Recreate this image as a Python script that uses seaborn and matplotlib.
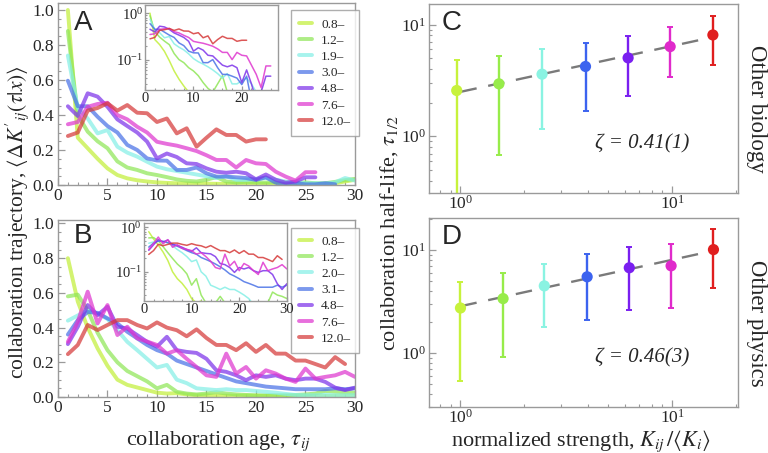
import numpy as np
import pandas as pd
import matplotlib
matplotlib.use("Agg")
import matplotlib.pyplot as plt
from matplotlib.ticker import MultipleLocator, NullFormatter
from matplotlib.lines import Line2D
import seaborn as sns

# strength bins (legend labels)
bins_a = ['0.8–', '1.2–', '1.9–', '3.0–', '4.8–', '7.6–', '12.0–']
bins_b = ['0.8–', '1.2–', '2.0–', '3.1–', '4.8–', '7.6–', '12.0–']

# A: other biology, trajectory vs collaboration age (age = 1, 2, ...)
traj_a_08 = [1.0, 0.27, 0.21, 0.15, 0.095, 0.057, 0.038, 0.027, 0.02, 0.015, 0.012, 0.01, 0.009, 0.008, 0.008,
             0.007, 0.007, 0.007, 0.006, 0.006, 0.006, 0.006, 0.005, 0.005, 0.006, 0.006, 0.005, 0.01, 0.02, 0.03]
traj_a_12 = [0.88, 0.40, 0.305, 0.25, 0.21, 0.135, 0.10, 0.086, 0.067, 0.057, 0.045, 0.032, 0.024, 0.02, 0.03,
             0.045, 0.02, 0.015, 0.018, 0.015, 0.014, 0.016, 0.014, 0.012, 0.015, 0.01, 0.01, 0.018, 0.028, 0.035]
traj_a_19 = [0.74, 0.44, 0.38, 0.295, 0.314, 0.219, 0.185, 0.162, 0.133, 0.105, 0.09, 0.08, 0.07, 0.06, 0.05,
             0.04, 0.05, 0.03, 0.03, 0.035, 0.04, 0.03, 0.02, 0.015, 0.01, 0.01, 0.008, 0.015, 0.04, 0.025]
traj_a_30 = [0.596, 0.45, 0.45, 0.39, 0.337, 0.30, 0.229, 0.20, 0.152, 0.14, 0.139, 0.086, 0.086, 0.10, 0.067,
             0.048, 0.048, 0.044, 0.04, 0.029, 0.044, 0.013, 0.004, 0.01, 0.004, 0.004, 0.01, 0.004]
traj_a_48 = [0.45, 0.394, 0.524, 0.505, 0.447, 0.375, 0.337, 0.30, 0.248, 0.152, 0.18, 0.16, 0.124, 0.12, 0.095,
             0.076, 0.07, 0.076, 0.067, 0.032, 0.06, 0.03, 0.013, 0.02, 0.044, 0.044]
traj_a_76 = [0.347, 0.36, 0.447, 0.463, 0.47, 0.40, 0.375, 0.333, 0.30, 0.247, 0.235, 0.225, 0.21, 0.194, 0.17,
             0.143, 0.143, 0.10, 0.143, 0.124, 0.12, 0.076, 0.048, 0.025, 0.073, 0.073]
traj_a_120 = [0.28, 0.30, 0.425, 0.44, 0.467, 0.425, 0.457, 0.413, 0.41, 0.36, 0.38, 0.295, 0.324, 0.219, 0.27,
              0.318, 0.286, 0.286, 0.248, 0.261, 0.261]

# B: other physics
traj_b_08 = [0.80, 0.55, 0.40, 0.28, 0.18, 0.10, 0.07, 0.055, 0.04, 0.025, 0.02, 0.022, 0.015, 0.01, 0.01,
             0.008, 0.008, 0.007, 0.008, 0.007, 0.006, 0.006, 0.007, 0.006, 0.005, 0.006, 0.006, 0.006, 0.007, 0.006]
traj_b_12 = [0.58, 0.59, 0.50, 0.37, 0.27, 0.20, 0.15, 0.12, 0.09, 0.05, 0.07, 0.03, 0.02, 0.015, 0.02,
             0.028, 0.02, 0.015, 0.012, 0.01, 0.01, 0.01, 0.01, 0.012, 0.015, 0.02, 0.035, 0.03, 0.028, 0.025]
traj_b_20 = [0.44, 0.47, 0.50, 0.48, 0.45, 0.385, 0.318, 0.27, 0.22, 0.17, 0.185, 0.10, 0.08, 0.05, 0.045,
             0.04, 0.045, 0.04, 0.04, 0.035, 0.03, 0.025, 0.018, 0.012, 0.01, 0.01, 0.012, 0.01, 0.01, 0.01]
traj_b_31 = [0.36, 0.443, 0.49, 0.485, 0.453, 0.424, 0.376, 0.338, 0.30, 0.27, 0.25, 0.21, 0.19, 0.17, 0.15,
             0.13, 0.11, 0.09, 0.08, 0.07, 0.06, 0.055, 0.05, 0.045, 0.045, 0.045, 0.045, 0.05, 0.045, 0.05]
traj_b_48 = [0.305, 0.405, 0.53, 0.472, 0.52, 0.405, 0.395, 0.357, 0.318, 0.29, 0.347, 0.27, 0.26, 0.254, 0.22,
             0.154, 0.145, 0.125, 0.097, 0.125, 0.116, 0.125, 0.106, 0.097, 0.106, 0.106, 0.087, 0.054, 0.04, 0.054]
traj_b_76 = [0.318, 0.434, 0.607, 0.424, 0.53, 0.357, 0.405, 0.338, 0.32, 0.30, 0.25, 0.27, 0.22, 0.173, 0.125,
             0.116, 0.25, 0.135, 0.173, 0.106, 0.154, 0.135, 0.106, 0.087, 0.164, 0.106, 0.116, 0.125, 0.145, 0.116]
traj_b_120 = [0.247, 0.30, 0.415, 0.386, 0.415, 0.443, 0.443, 0.415, 0.395, 0.43, 0.40, 0.385, 0.35, 0.39, 0.34,
              0.30, 0.30, 0.27, 0.31, 0.26, 0.30, 0.25, 0.25, 0.21, 0.21, 0.19, 0.17, 0.23, 0.19]

# C: half-life vs normalized strength (other biology)
strength_c = [0.96, 1.52, 2.43, 3.9, 6.2, 9.8, 15.6]
halflife_c = [2.57, 2.95, 3.6, 4.22, 5.04, 6.36, 8.09]
err_lo_c = [0.2, 0.676, 1.15, 1.68, 2.29, 3.41, 4.37]
err_hi_c = [4.87, 5.29, 6.06, 6.81, 7.87, 9.46, 11.9]
fit_c_x = [1.0, 14.5]
fit_c_y = [2.5, 7.5]

# D: other physics
strength_d = [1.0, 1.59, 2.49, 3.97, 6.28, 9.9, 15.7]
halflife_d = [2.74, 3.38, 4.49, 5.5, 6.73, 7.03, 10.1]
err_lo_d = [0.54, 0.914, 1.79, 2.08, 2.64, 2.72, 4.3]
err_hi_d = [4.92, 5.93, 7.31, 9.07, 10.8, 11.4, 16.0]
fit_d_x = [1.0, 14.5]
fit_d_y = [2.85, 9.5]

line_colors = ['#c2ef3a', '#8fe657', '#85efe6', '#4a72e6', '#7d33ea', '#df37cf', '#d63a3a']
dot_colors = ['#c7f23c', '#97ec4a', '#8af3e2', '#3c63ef', '#7a1ff0', '#e02acb', '#e01e1e']
frame = '#9a9a9a'

sns.set_style("white")
plt.rcParams['font.family'] = ['Liberation Serif', 'DejaVu Serif']
plt.rcParams['mathtext.fontset'] = 'stix'


def to_long(series, labels):
    rows = []
    for lab, vals in zip(labels, series):
        for t, v in enumerate(vals, start=1):
            rows.append((lab, t, v))
    return pd.DataFrame(rows, columns=['bin', 'age', 'traj'])


def style_frame(ax, size=13, xpad=2, ypad=2):
    for s in ax.spines.values():
        s.set_color(frame)
        s.set_linewidth(1.0)
    ax.tick_params(which='both', direction='in', color=frame, bottom=True, left=True,
                   top=False, right=False, labelsize=size)
    ax.tick_params(axis='x', pad=xpad)
    ax.tick_params(axis='y', pad=ypad)
    ax.tick_params(which='major', length=5, width=0.9)
    ax.tick_params(which='minor', length=2.5, width=0.8)


def traj_panel(ax, series, labels, letter, ylim_top):
    df = to_long(series, labels)
    pal = dict(zip(labels, line_colors))
    sns.lineplot(data=df, x='age', y='traj', hue='bin', hue_order=labels, palette=pal,
                 lw=2.8, alpha=0.72, legend=False, estimator=None, ax=ax)
    ax.set_xlim(0, 30)
    ax.set_ylim(0, ylim_top)
    ax.xaxis.set_major_locator(MultipleLocator(5))
    ax.xaxis.set_minor_locator(MultipleLocator(1))
    ax.yaxis.set_major_locator(MultipleLocator(0.2))
    ax.yaxis.set_minor_locator(MultipleLocator(0.05))
    ax.yaxis.set_major_formatter(plt.FuncFormatter(lambda v, p: f"{v:.1f}"))
    ax.set_xlabel('')
    ax.set_ylabel('')
    style_frame(ax, 12.5, xpad=2.5, ypad=3)
    ax.text(0.085, 0.89 if letter == 'A' else 0.91, letter, transform=ax.transAxes, ha='center',
            va='center', fontsize=20, family=['Liberation Sans', 'DejaVu Sans'])
    handles = [Line2D([], [], color=c, lw=2.8, alpha=0.72) for c in line_colors]
    leg = ax.legend(handles, labels, loc='upper left', bbox_to_anchor=(0.762, 0.995),
                    frameon=True, fancybox=False, edgecolor=frame, fontsize=9.5,
                    handlelength=1.0, handletextpad=0.7, labelspacing=0.3, borderpad=0.6)
    leg.get_frame().set_linewidth(1.0)


def inset_panel(ax, series, labels, xmax, ylim, xticks):
    df = to_long(series, labels)
    pal = dict(zip(labels, line_colors))
    sns.lineplot(data=df, x='age', y='traj', hue='bin', hue_order=labels, palette=pal,
                 lw=1.1, alpha=0.85, legend=False, estimator=None, ax=ax)
    ax.set_yscale('log')
    ax.set_xlim(0, xmax)
    ax.set_ylim(*ylim)
    ax.set_xticks(xticks)
    ax.xaxis.set_minor_locator(MultipleLocator(2))
    ax.yaxis.set_minor_formatter(NullFormatter())
    ax.set_xlabel('')
    ax.set_ylabel('')
    style_frame(ax, 10.5, xpad=1.5, ypad=1.5)
    ax.tick_params(which='major', length=3)
    ax.tick_params(which='minor', length=1.5)
    ax.set_facecolor('white')


def halflife_panel(ax, x, y, lo, hi, fx, fy, letter, ylim, zeta):
    for xi, yi, l, h, c in zip(x, y, lo, hi, dot_colors):
        ax.errorbar([xi], [yi], yerr=[[yi - l], [h - yi]], fmt='none', ecolor=c,
                    elinewidth=1.7, capsize=2, capthick=1.4, zorder=2)
    ax.plot(fx, fy, color='#7a7a7a', lw=1.7, ls=(0, (7, 5)), zorder=2.5)
    sns.scatterplot(x=x, y=y, hue=list(range(len(x))), palette=dot_colors, s=65,
                    edgecolor='none', legend=False, zorder=3, ax=ax)
    ax.set_xscale('log')
    ax.set_yscale('log')
    ax.set_xlim(0.71, 20.5)
    ax.set_ylim(*ylim)
    ax.xaxis.set_minor_formatter(NullFormatter())
    ax.yaxis.set_minor_formatter(NullFormatter())
    style_frame(ax, 12.5, xpad=1, ypad=2)
    ax.text(0.074, 0.9, letter, transform=ax.transAxes, ha='center', va='center',
            fontsize=20, family=['Liberation Sans', 'DejaVu Sans'])
    ax.text(0.69, 0.26, zeta, transform=ax.transAxes, ha='center', va='center',
            fontsize=15, style='italic')


fig = plt.figure(figsize=(7.68, 4.53), dpi=100)

ax_a = fig.add_axes([0.0755, 0.5916, 0.3867, 0.4018])
ax_b = fig.add_axes([0.0755, 0.1236, 0.3867, 0.3907])
ax_c = fig.add_axes([0.5586, 0.574, 0.4023, 0.417])
ax_d = fig.add_axes([0.5586, 0.1015, 0.4023, 0.417])

traj_panel(ax_a, [traj_a_08, traj_a_12, traj_a_19, traj_a_30, traj_a_48, traj_a_76, traj_a_120],
           bins_a, 'A', 1.04)
traj_panel(ax_b, [traj_b_08, traj_b_12, traj_b_20, traj_b_31, traj_b_48, traj_b_76, traj_b_120],
           bins_b, 'B', 1.02)

in_a = fig.add_axes([0.189, 0.801, 0.173, 0.188])
inset_panel(in_a, [traj_a_08, traj_a_12, traj_a_19, traj_a_30, traj_a_48, traj_a_76, traj_a_120],
            bins_a, 27.5, (0.022, 1.5), [0, 10, 20])
in_b = fig.add_axes([0.1875, 0.3355, 0.186, 0.172])
inset_panel(in_b, [traj_b_08, traj_b_12, traj_b_20, traj_b_31, traj_b_48, traj_b_76, traj_b_120],
            bins_b, 30, (0.022, 1.25), [0, 10, 20, 30])

halflife_panel(ax_c, strength_c, halflife_c, err_lo_c, err_hi_c, fit_c_x, fit_c_y, 'C',
               (0.31, 15.3), 'ζ = 0.41(1)')
halflife_panel(ax_d, strength_d, halflife_d, err_lo_d, err_hi_d, fit_d_x, fit_d_y, 'D',
               (0.30, 20.4), 'ζ = 0.46(3)')

fig.text(0.022, 0.51, r"collaboration trajectory, $\langle\Delta K'_{ij}(\tau|x)\rangle$",
         rotation=90, ha='center', va='center', fontsize=15.5)
fig.text(0.284, 0.027, r"collaboration age, $\tau_{ij}$", ha='center', va='center', fontsize=16)
fig.text(0.506, 0.485, r"collaboration half-life, $\tau_{1/2}$", rotation=90,
         ha='center', va='center', fontsize=16)
fig.text(0.757, 0.027, r"normalized strength, $K_{ij}\,/\langle K_i\rangle$",
         ha='center', va='center', fontsize=16)
fig.text(0.985, 0.76, "Other biology", rotation=-90, ha='center', va='center', fontsize=16.5)
fig.text(0.985, 0.287, "Other physics", rotation=-90, ha='center', va='center', fontsize=16.5)

fig.savefig("out.png", dpi=100)
